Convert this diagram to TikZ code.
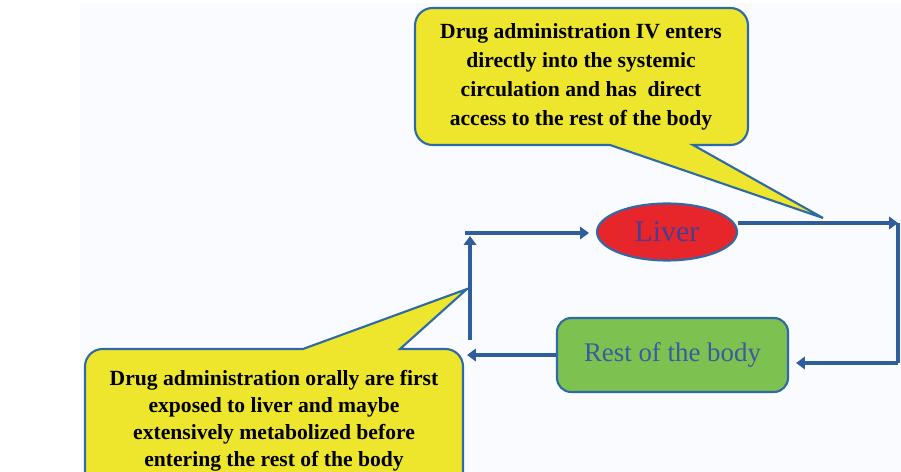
\documentclass[tikz,border=0pt]{standalone}
\usepackage{fontspec}
\setmainfont{Liberation Serif}
\usetikzlibrary{arrows.meta,shapes.geometric}
\definecolor{flowblue}{HTML}{2F5E9C}
\definecolor{notebd}{HTML}{2E6AA6}
\definecolor{noteyel}{HTML}{EEE62C}
\definecolor{liverred}{HTML}{E7262C}
\definecolor{bodygreen}{HTML}{7DC151}
\definecolor{livertext}{HTML}{4A3C91}
\definecolor{bodytext}{HTML}{3B5AA0}
\definecolor{panel}{HTML}{FAFBFE}

\begin{document}
\begin{tikzpicture}[x=0.02cm,y=-0.02cm,
    flow/.style={line width=2.3pt,flowblue,-{Triangle[length=5pt,width=7pt]}},
    bar/.style={line width=2.3pt,flowblue},
    note/.style={draw=notebd,line width=1.2pt,fill=noteyel,rounded corners=10pt},
    notetext/.style={align=center,font=\bfseries\fontsize{12.3}{16.5}\selectfont},
    organ/.style={draw=notebd,line width=1.2pt,inner sep=0pt}]
            \useasboundingbox (0,0) rectangle (901,472);
            \clip (0,0) rectangle (901,472);
            \fill[panel] (80,3) rectangle (901,472);

            \draw[note] (415,8) -- (748,8) -- (748,145) [sharp corners] -- (693,145) -- (823,218) -- (610,145) [rounded corners=10pt] -- (415,145) -- cycle;
            \node[notetext] (ivnote) at (581,77) {Drug administration IV enters\\directly into the systemic\\circulation and has\ \ direct\\access to the rest of the body};

            \draw[note] (85,349) [sharp corners] -- (303,349) -- (467,289) -- (400,349) [rounded corners=10pt] -- (463,349) -- (463,500) -- (85,500) -- cycle;
            \node[notetext,font=\bfseries\fontsize{12.3}{15.4}\selectfont] (oralnote) at (274,421) {Drug administration orally are first\\exposed to liver and maybe\\extensively metabolized before\\entering the rest of the body};

            \node[organ,ellipse,fill=liverred,minimum width=2.8cm,minimum height=1.14cm,text=livertext,font=\fontsize{17}{20}\selectfont] (liver) at (667,232) {Liver};
            \node[organ,rectangle,rounded corners=8pt,fill=bodygreen,minimum width=4.62cm,minimum height=1.48cm,text=bodytext,font=\fontsize{15.3}{18}\selectfont] (rest) at (672.5,355) {Rest of the body};

            \coordinate (ne) at (898,223);
            \coordinate (se) at (898,363);
            \coordinate (sw) at (467,355);
            \coordinate (upfoot) at (470,340);
            \coordinate (uphead) at (470,236);
            \coordinate (nw) at (465,233);

            \draw[flow] (liver.east |- ne) -- (ne);
            \draw[bar] (ne) -- (se);
            \draw[flow,shorten >=4pt] (se) -- (rest.east |- se);
            \draw[flow] (rest.west) -- (sw);
            \draw[flow] (upfoot) -- (uphead);
            \draw[flow,shorten >=4pt] (nw) -- (liver.west |- nw);

\end{tikzpicture}
\end{document}
